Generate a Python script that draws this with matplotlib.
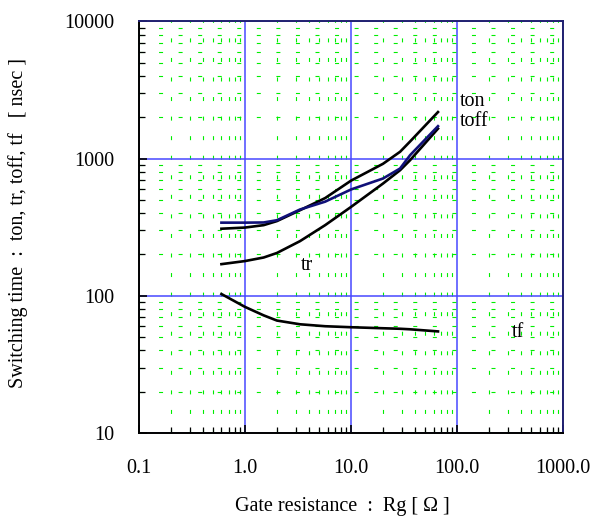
import matplotlib
matplotlib.use("Agg")
import matplotlib.pyplot as plt
from matplotlib.ticker import FixedLocator, LogLocator, NullFormatter

# %%
# Data
rg = [0.6, 1.0, 1.5, 2.0, 3.3, 5.7, 10, 20, 29, 36, 66]
ton = [308, 314, 327, 350, 420, 515, 690, 915, 1120, 1330, 2180]
toff = [341, 341, 342, 355, 425, 485, 595, 715, 846, 1057, 1720]
tr = [170, 179, 190, 205, 250, 327, 444, 657, 822, 972, 1650]
tf = [103, 83, 72, 66, 62, 60, 59, 58, 57.5, 57, 55]

x_ticks = [0.1, 1, 10, 100, 1000]
x_labels = ["0.1", "1.0", "10.0", "100.0", "1000.0"]
y_ticks = [10, 100, 1000, 10000]
y_labels = ["10", "100", "1000", "10000"]

plt.rcParams["font.family"] = ["Liberation Serif", "DejaVu Serif"]

fig = plt.figure(figsize=(5.91, 5.18), dpi=100)
ax = fig.add_axes([0.235, 0.164, 0.718, 0.795])
ax.set_xscale("log")
ax.set_yscale("log")
ax.set_xlim(0.1, 1000)
ax.set_ylim(10, 10000)

# %%
# Grid: blue major, green dashed minor
ax.xaxis.set_minor_locator(LogLocator(base=10, subs=range(2, 10)))
ax.yaxis.set_minor_locator(LogLocator(base=10, subs=range(2, 10)))
ax.xaxis.set_minor_formatter(NullFormatter())
ax.yaxis.set_minor_formatter(NullFormatter())
ax.grid(which="minor", color="#00ee00", lw=0.8, linestyle=(0, (3.6, 14)))
ax.grid(which="major", color="#4848ff", lw=1.1)
ax.set_axisbelow(True)

# %%
# Curves
ax.plot(rg, tf, color="black", lw=1.9)
ax.plot(rg, tr, color="black", lw=1.9)
ax.plot(rg, ton, color="black", lw=1.9)
ax.plot(rg, toff, color="#101078", lw=1.9)

ax.text(107, 2610, "ton", fontsize=14.5, va="center", ha="left")
ax.text(107, 1870, "toff", fontsize=14.5, va="center", ha="left")
ax.text(3.85, 167, "tr", fontsize=14.5, va="center", ha="center")
ax.text(376, 54, "tf", fontsize=14.5, va="center", ha="center")

# %%
# Axes, ticks and labels
ax.xaxis.set_major_locator(FixedLocator(x_ticks))
ax.yaxis.set_major_locator(FixedLocator(y_ticks))
ax.set_xticklabels(x_labels)
ax.set_yticklabels(y_labels)
ax.tick_params(which="both", direction="in", top=False, right=False,
               labelsize=14.5, color="black")
ax.tick_params(which="major", length=6, width=1.2)
ax.tick_params(which="minor", length=4, width=0.9)
ax.tick_params(axis="x", pad=19)
ax.tick_params(axis="y", pad=18)

for side in ["left", "bottom"]:
    ax.spines[side].set_color("black")
    ax.spines[side].set_linewidth(1.4)
for side in ["top", "right"]:
    ax.spines[side].set_color("#202070")
    ax.spines[side].set_linewidth(1.4)

ax.set_xlabel("Gate resistance \u00a0:\u00a0 Rg [ \u03a9 ]", fontsize=14.5)
ax.xaxis.set_label_coords(0.48, -0.155)
ax.set_ylabel("Switching time \u00a0:\u00a0 ton, tr, toff, tf \u00a0\u00a0[ nsec ]",
              fontsize=14.5)
ax.yaxis.set_label_coords(-0.262, 0.51)

fig.savefig("out.png", dpi=100)
